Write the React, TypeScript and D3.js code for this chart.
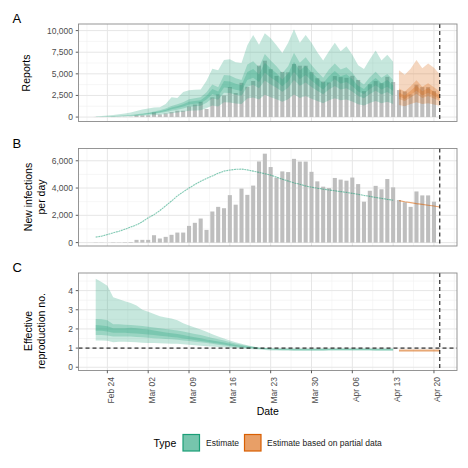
import React, { useEffect } from "react";
import * as d3 from "d3";

// ---------- DATA ----------
const firstDate = "2020-02-22";
const lastDate = "2020-04-21";
const partialFrom = "2020-04-14";
const xTickLabels = ["2020-02-24", "2020-03-02", "2020-03-09", "2020-03-16", "2020-03-23", "2020-03-30", "2020-04-06", "2020-04-13", "2020-04-20"];
const legendTypes = ["Estimate", "Estimate based on partial data"];

// Reported cases, Feb 22 .. Apr 20
const reportCases = [15, 10, 0, 25, 15, 30, 40, 200,
  200, 200, 540, 300, 420, 570, 735, 735, 1225, 1450, 1765, 930, 2280, 2620, 2520, 3480, 2780, 3960, 3500, 4180, 5950, 6520, 5540, 4760, 5220, 5170, 6140, 5940, 5940, 5190, 4490,
  4100, 4000, 4740, 4620, 4540, 4770, 4290, 3000, 3800, 4160, 3910, 4660, 4050, 3120, 2960, 2620, 3750, 3460, 3460, 3000];

// Estimated reports, Feb 22 .. Apr 21
const repL90 = [18, 27, 36, 45, 54, 68, 86, 113, 144, 180, 225, 280, 350, 450, 520, 610, 720, 765, 800, 1010, 1330, 1220, 1710, 1690, 1580, 1510, 2140, 2270, 2030, 2570, 2300, 2070, 1780, 2070, 2610, 2210, 2430, 2120, 1850, 1600, 1940, 2180, 1940, 2030, 1800, 1490, 1330, 1620, 1850, 1600, 1760, 1510, 1400, 1250, 1500, 1700, 1500, 1600, 1450, 1300];
const repL50 = [30, 44, 59, 74, 89, 111, 141, 185, 237, 296, 370, 459, 577, 740, 851, 999, 1184, 1258, 1317, 1665, 2183, 1998, 2812, 2775, 2590, 2479, 3515, 3737, 3330, 4218, 3774, 3404, 2923, 3404, 4292, 3626, 3996, 3478, 3034, 2627, 3182, 3589, 3182, 3330, 2960, 2442, 2183, 2664, 3034, 2627, 2886, 2479, 2100, 1850, 2250, 2700, 2200, 2450, 2150, 1850];
const repL20 = [36, 54, 72, 90, 108, 135, 171, 225, 288, 360, 450, 558, 702, 900, 1035, 1215, 1440, 1530, 1602, 2025, 2655, 2430, 3420, 3375, 3150, 3015, 4275, 4545, 4050, 5130, 4590, 4140, 3555, 4140, 5220, 4410, 4860, 4230, 3690, 3195, 3870, 4365, 3870, 4050, 3600, 2970, 2655, 3240, 3690, 3195, 3510, 3015, 2400, 2100, 2550, 3050, 2500, 2800, 2450, 2100];
const repU20 = [44, 66, 88, 110, 132, 165, 209, 275, 352, 440, 550, 682, 858, 1100, 1265, 1485, 1760, 1870, 1958, 2475, 3245, 2970, 4180, 4125, 3850, 3685, 5225, 5555, 4950, 6270, 5610, 5060, 4345, 5060, 6380, 5390, 5940, 5170, 4510, 3905, 4730, 5335, 4730, 4950, 4400, 3630, 3245, 3960, 4510, 3905, 4290, 3685, 2850, 2500, 3050, 3650, 3000, 3350, 2950, 2500];
const repU50 = [51, 77, 102, 128, 154, 192, 243, 320, 410, 512, 640, 794, 998, 1280, 1472, 1728, 2048, 2176, 2278, 2880, 3776, 3456, 4864, 4800, 4480, 4288, 6080, 6464, 5760, 7296, 6528, 5888, 5056, 5888, 7424, 6272, 6912, 6016, 5248, 4544, 5504, 6208, 5504, 5760, 5120, 4224, 3776, 4608, 5248, 4544, 4992, 4288, 3300, 2950, 3550, 4250, 3500, 3900, 3450, 2950];
const repU90 = [80, 120, 170, 240, 320, 420, 530, 700, 880, 1000, 1100, 1150, 1500, 2300, 2200, 2900, 3100, 3150, 3200, 4200, 5600, 5400, 6600, 6700, 6350, 6250, 8300, 9500, 8350, 9700, 9100, 8300, 7400, 8600, 10150, 8600, 9500, 8600, 7500, 6550, 7600, 8600, 7600, 8200, 7200, 6000, 5550, 6700, 7700, 6550, 7200, 6400, 5400, 4900, 5600, 6600, 5650, 6200, 5700, 4950];

// New infections per day (median), Feb 22 .. Apr 21
const infections = [400, 470, 590, 720, 830, 980, 1140, 1300, 1530, 1820, 2050, 2350, 2700, 3050, 3420, 3720, 4000, 4260, 4500, 4700, 4890, 5080, 5240, 5320, 5370, 5390, 5330, 5240, 5150, 5050, 4950, 4800, 4650, 4510, 4380, 4280, 4150, 4060, 3990, 3920, 3860, 3800, 3740, 3680, 3610, 3540, 3460, 3390, 3310, 3240, 3170, 3110, 3080, 3000, 2930, 2860, 2800, 2740, 2680, 2610];

// Effective reproduction number, Feb 22 .. Apr 21
const rL90 = [1.4, 1.4, 1.38, 1.3, 1.33, 1.33, 1.32, 1.3, 1.28, 1.27, 1.26, 1.25, 1.24, 1.23, 1.22, 1.2, 1.17, 1.15, 1.12, 1.1, 1.08, 1.06, 1.04, 1.02, 1.0, 0.98, 0.96, 0.94, 0.92, 0.9, 0.88, 0.87, 0.86, 0.86, 0.85, 0.85, 0.85, 0.85, 0.85, 0.85, 0.86, 0.86, 0.86, 0.86, 0.86, 0.86, 0.86, 0.86, 0.85, 0.85, 0.85, 0.85, 0.79, 0.79, 0.79, 0.79, 0.79, 0.79, 0.79, 0.79];
const rL50 = [1.68, 1.68, 1.66, 1.6, 1.6, 1.6, 1.6, 1.58, 1.56, 1.54, 1.52, 1.5, 1.48, 1.46, 1.43, 1.4, 1.37, 1.33, 1.3, 1.26, 1.22, 1.18, 1.14, 1.1, 1.06, 1.03, 1.0, 0.98, 0.96, 0.94, 0.92, 0.91, 0.9, 0.9, 0.89, 0.89, 0.89, 0.89, 0.89, 0.89, 0.9, 0.9, 0.9, 0.9, 0.9, 0.9, 0.9, 0.9, 0.89, 0.89, 0.89, 0.89, 0.83, 0.83, 0.83, 0.83, 0.83, 0.83, 0.83, 0.83];
const rL20 = [1.9, 1.9, 1.87, 1.8, 1.8, 1.8, 1.78, 1.76, 1.74, 1.71, 1.68, 1.65, 1.62, 1.58, 1.55, 1.5, 1.46, 1.42, 1.37, 1.33, 1.28, 1.24, 1.19, 1.14, 1.1, 1.06, 1.03, 1.0, 0.975, 0.955, 0.94, 0.93, 0.915, 0.915, 0.91, 0.91, 0.91, 0.91, 0.91, 0.91, 0.915, 0.915, 0.915, 0.915, 0.915, 0.915, 0.915, 0.915, 0.91, 0.91, 0.91, 0.91, 0.85, 0.85, 0.85, 0.85, 0.85, 0.85, 0.85, 0.85];
const rU20 = [2.2, 2.18, 2.14, 2.04, 2.04, 2.04, 2.06, 2.04, 2.0, 1.97, 1.92, 1.87, 1.82, 1.78, 1.73, 1.68, 1.62, 1.56, 1.51, 1.45, 1.4, 1.34, 1.29, 1.22, 1.16, 1.12, 1.07, 1.04, 1.005, 0.985, 0.96, 0.95, 0.945, 0.945, 0.94, 0.94, 0.94, 0.94, 0.94, 0.94, 0.945, 0.945, 0.945, 0.945, 0.945, 0.945, 0.945, 0.945, 0.94, 0.94, 0.94, 0.94, 0.89, 0.89, 0.89, 0.89, 0.89, 0.89, 0.89, 0.89];
const rU50 = [2.52, 2.5, 2.45, 2.25, 2.24, 2.22, 2.2, 2.18, 2.15, 2.12, 2.08, 2.04, 2.0, 1.96, 1.92, 1.86, 1.8, 1.74, 1.68, 1.6, 1.53, 1.46, 1.39, 1.31, 1.24, 1.18, 1.12, 1.07, 1.03, 1.0, 0.98, 0.97, 0.96, 0.96, 0.96, 0.96, 0.96, 0.96, 0.96, 0.96, 0.965, 0.965, 0.965, 0.965, 0.965, 0.965, 0.965, 0.965, 0.96, 0.96, 0.96, 0.96, 0.91, 0.91, 0.91, 0.91, 0.91, 0.91, 0.91, 0.91];
const rU90 = [4.62, 4.45, 4.25, 3.65, 3.55, 3.45, 3.35, 3.22, 3.0, 2.9, 2.78, 2.66, 2.6, 2.55, 2.45, 2.3, 2.18, 2.07, 1.97, 1.85, 1.72, 1.6, 1.5, 1.4, 1.3, 1.22, 1.15, 1.08, 1.02, 1.0, 0.99, 0.99, 0.99, 0.99, 0.98, 0.98, 0.98, 0.98, 0.98, 0.98, 0.99, 0.99, 0.99, 0.99, 0.99, 0.99, 0.99, 0.99, 0.98, 0.98, 0.98, 0.98, 0.94, 0.94, 0.94, 0.94, 0.94, 0.94, 0.94, 0.94];

const yTicksA = [0, 2500, 5000, 7500, 10000];
const yTicksB = [0, 2000, 4000, 6000];
const yTicksC = [0, 1, 2, 3, 4];

// ---------- STYLE / LAYOUT ----------
const GREEN = "#1B9E77";
const ORANGE = "#D95F02";
const FONT = "'Liberation Sans', Arial, Helvetica, sans-serif";
const PL = 78.5, PR = 457;
const DAY = 864e5;
const parse = (s: string) => new Date(s + "T00:00:00Z");

export default function App() {
  useEffect(() => {
    document.body.style.margin = "0";
  }, []);

  const t0 = parse(firstDate).getTime();
  const t1 = parse(lastDate).getTime();
  const estDates = d3.utcDay.range(new Date(t0), new Date(t1 + DAY));
  const repDates = estDates.slice(0, reportCases.length);
  const splitIdx = estDates.findIndex((d) => d.getTime() === parse(partialFrom).getTime());
  const greenIdx = d3.range(0, splitIdx);
  const orangeIdx = d3.range(splitIdx, estDates.length);

  const x = d3.scaleUtc().domain([new Date(t0 - 2.95 * DAY), new Date(t1 + 2.95 * DAY)]).range([PL, PR]);
  const dayPx = x(new Date(t0 + DAY)) - x(new Date(t0));
  const barW = dayPx * 0.7;

  const panels = [
    { key: "A", top: 24, bottom: 121.5, y: d3.scaleLinear().domain([-512, 10762]).range([121.5, 24]), ticks: yTicksA, fmt: d3.format(",") },
    { key: "B", top: 148.5, bottom: 246, y: d3.scaleLinear().domain([-250, 6900]).range([246, 148.5]), ticks: yTicksB, fmt: d3.format(",") },
    { key: "C", top: 273, bottom: 370.5, y: d3.scaleLinear().domain([-0.17, 4.92]).range([370.5, 273]), ticks: yTicksC, fmt: d3.format("d") },
  ];

  const majorX = xTickLabels.map(parse);
  const minorX: Date[] = [];
  const xd = x.domain();
  [new Date(majorX[0].getTime() - 3.5 * DAY), ...majorX.map((d) => new Date(d.getTime() + 3.5 * DAY))].forEach((d) => {
    if (d >= xd[0] && d <= xd[1]) minorX.push(d);
  });
  const fmtX = d3.utcFormat("%b %d");
  const vline = x(new Date(t1));

  const area = (ys: d3.ScaleLinear<number, number>, lo: number[], hi: number[], idx: number[]) =>
    d3.area<number>().x((i) => x(estDates[i])).y0((i) => ys(lo[i])).y1((i) => ys(hi[i]))(idx) || "";
  const line = (ys: d3.ScaleLinear<number, number>, v: number[], idx: number[]) =>
    d3.line<number>().x((i) => x(estDates[i])).y((i) => ys(v[i]))(idx) || "";

  const bands = (ys: d3.ScaleLinear<number, number>, sets: number[][][], idx: number[], col: string) =>
    sets.map(([lo, hi], k) => <path key={col + k} d={area(ys, lo, hi, idx)} fill={col} fillOpacity={0.25} stroke="none" />);

  const [pA, pB, pC] = panels;
  const repSets = [[repL90, repU90], [repL50, repU50], [repL20, repU20]];
  const rSets = [[rL90, rU90], [rL50, rU50], [rL20, rU20]];

  const bars = (ys: d3.ScaleLinear<number, number>) =>
    reportCases.map((v, i) => (
      <rect key={i} x={x(repDates[i]) - barW / 2} y={ys(v)} width={barW} height={Math.max(0, ys(0) - ys(v))} fill="#bebebe" />
    ));

  return (
    <svg width={468} height={468} style={{ position: "absolute", left: 0, top: 0, background: "#fff" }} fontFamily={FONT}>
      <rect x={0} y={0} width={468} height={468} fill="#fff" />
      {panels.map((p) => {
        const ys = p.y;
        const minorY: number[] = [];
        const step = p.ticks[1] - p.ticks[0];
        const yd = ys.domain();
        for (let v = p.ticks[0] - step / 2; v <= yd[1]; v += step) if (v >= yd[0]) minorY.push(v);
        return (
          <g key={p.key}>
            {minorY.map((v) => (
              <line key={"my" + v} x1={PL} x2={PR} y1={ys(v)} y2={ys(v)} stroke="#f0f0f0" strokeWidth={0.6} />
            ))}
            {minorX.map((d) => (
              <line key={"mx" + d.getTime()} x1={x(d)} x2={x(d)} y1={p.top} y2={p.bottom} stroke="#f0f0f0" strokeWidth={0.6} />
            ))}
            {p.ticks.map((v) => (
              <line key={"gy" + v} x1={PL} x2={PR} y1={ys(v)} y2={ys(v)} stroke="#e6e6e6" strokeWidth={1} />
            ))}
            {majorX.map((d) => (
              <line key={"gx" + d.getTime()} x1={x(d)} x2={x(d)} y1={p.top} y2={p.bottom} stroke="#e6e6e6" strokeWidth={1} />
            ))}
            {p.ticks.map((v) => (
              <g key={"t" + v}>
                <line x1={PL - 2.75} x2={PL} y1={ys(v)} y2={ys(v)} stroke="#333" strokeWidth={0.8} />
                <text x={73} y={ys(v)} dy="0.35em" textAnchor="end" fontSize={8.5} fill="#4d4d4d">
                  {p.fmt(v)}
                </text>
              </g>
            ))}
            <text x={12.5} y={p.top - 1} fontSize={13} fill="#000">
              {p.key}
            </text>
          </g>
        );
      })}

      {/* Panel A */}
      {bars(pA.y)}
      {bands(pA.y, repSets, greenIdx, GREEN)}
      {bands(pA.y, repSets, orangeIdx, ORANGE)}

      {/* Panel B */}
      {bars(pB.y)}
      <path d={line(pB.y, infections, greenIdx)} fill="none" stroke={GREEN} strokeOpacity={0.55} strokeWidth={1.1} strokeDasharray="2,0.6" />
      <path d={line(pB.y, infections, orangeIdx)} fill="none" stroke={ORANGE} strokeOpacity={0.55} strokeWidth={1.1} />

      {/* Panel C */}
      {bands(pC.y, rSets, greenIdx, GREEN)}
      {bands(pC.y, rSets, orangeIdx, ORANGE)}
      <line x1={PL} x2={PR} y1={pC.y(1)} y2={pC.y(1)} stroke="#000" strokeWidth={1} strokeDasharray="4,3" />

      {panels.map((p) => (
        <g key={"b" + p.key}>
          <line x1={vline} x2={vline} y1={p.top} y2={p.bottom} stroke="#000" strokeWidth={1} strokeDasharray="4,3" />
          <rect x={PL} y={p.top} width={PR - PL} height={p.bottom - p.top} fill="none" stroke="#8a8a8a" strokeWidth={0.9} />
        </g>
      ))}

      {/* x axis on panel C */}
      {majorX.map((d) => (
        <g key={"xt" + d.getTime()}>
          <line x1={x(d)} x2={x(d)} y1={pC.bottom} y2={pC.bottom + 2.75} stroke="#333" strokeWidth={0.8} />
          <text transform={`translate(${x(d) + 6.5},${pC.bottom + 6.5}) rotate(-90)`} textAnchor="end" fontSize={8.5} fill="#4d4d4d">
            {fmtX(d)}
          </text>
        </g>
      ))}
      <text x={(PL + PR) / 2} y={415} textAnchor="middle" fontSize={10.5} fill="#000">
        Date
      </text>

      {/* y titles */}
      <text transform="translate(30,73) rotate(-90)" textAnchor="middle" fontSize={10.5} fill="#000">
        Reports
      </text>
      <text transform="translate(31.5,197) rotate(-90)" textAnchor="middle" fontSize={10.5} fill="#000">
        New infections
      </text>
      <text transform="translate(44.5,197) rotate(-90)" textAnchor="middle" fontSize={10.5} fill="#000">
        per day
      </text>
      <text transform="translate(31.5,331) rotate(-90)" textAnchor="middle" fontSize={10.5} fill="#000">
        Effective
      </text>
      <text transform="translate(44.5,331) rotate(-90)" textAnchor="middle" fontSize={10.5} fill="#000">
        reproduction no.
      </text>

      {/* legend */}
      <text x={153.5} y={446.5} fontSize={10.5} fill="#000">
        Type
      </text>
      <rect x={183} y={434.5} width={16.5} height={16.5} fill={GREEN} fillOpacity={0.6} stroke={GREEN} strokeWidth={1.2} />
      <text x={206} y={445.5} fontSize={8.5} fill="#1a1a1a">
        {legendTypes[0]}
      </text>
      <rect x={244.5} y={434.5} width={16.5} height={16.5} fill={ORANGE} fillOpacity={0.6} stroke={ORANGE} strokeWidth={1.2} />
      <text x={267} y={445.5} fontSize={8.5} fill="#1a1a1a">
        {legendTypes[1]}
      </text>
    </svg>
  );
}
